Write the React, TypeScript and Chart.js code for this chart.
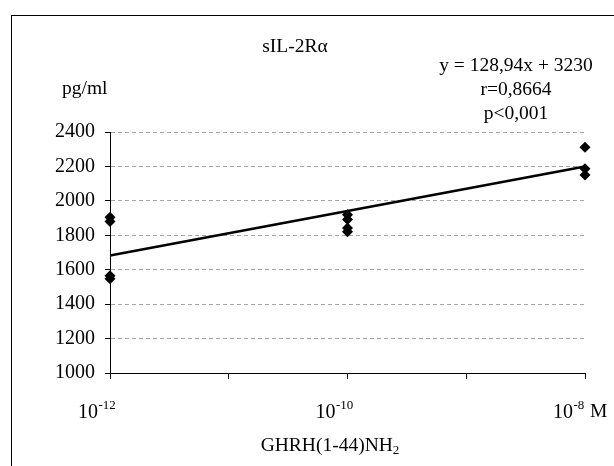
import React, { useEffect, useRef } from "react";
import { Chart, registerables } from "chart.js";

Chart.register(...registerables);

// ---- data ----
const doses = [1e-12, 1e-10, 1e-8];
const valuesLow = [1905, 1880, 1565, 1548];
const valuesMid = [1920, 1892, 1843, 1820];
const valuesHigh = [2312, 2186, 2150];
const trendX = [1e-12, 1e-8];
const trendY = [1683, 2199];
const yMin = 1000;
const yMax = 2400;
const yStep = 200;
const xTickValues = [1e-12, 1e-11, 1e-10, 1e-9, 1e-8];
const xLabelValues = [1e-12, 1e-10, 1e-8];
const xLabelBase = "10";
const xLabelExponents = ["-12", "-10", "-8"];
const chartTitle = "sIL-2Rα";
const yUnit = "pg/ml";
const xUnit = "M";
const equationLines = ["y = 128,94x + 3230", "r=0,8664", "p<0,001"];

const FONT = "'Liberation Serif', 'Times New Roman', serif";

const xLabelPlugin = {
  id: "xLabelPlugin",
  afterDraw(chart: any) {
    const ctx = chart.ctx;
    const xs = chart.scales.x;
    ctx.save();
    ctx.fillStyle = "#000";
    ctx.textBaseline = "alphabetic";
    ctx.textAlign = "left";
    xLabelValues.forEach((v, i) => {
      const px = xs.getPixelForValue(v);
      ctx.font = `20px ${FONT}`;
      const w1 = ctx.measureText(xLabelBase).width;
      const start = px - 32;
      ctx.fillText(xLabelBase, start, 418);
      ctx.font = `13px ${FONT}`;
      ctx.fillText(xLabelExponents[i], start + w1 + 0.5, 409);
    });
    ctx.restore();
  },
};

export default function App() {
  const ref = useRef<HTMLCanvasElement>(null);

  useEffect(() => {
    if (!ref.current) return;
    const pts = [
      ...valuesLow.map((y) => ({ x: doses[0], y })),
      ...valuesMid.map((y) => ({ x: doses[1], y })),
      ...valuesHigh.map((y) => ({ x: doses[2], y })),
    ];
    const chart = new Chart(ref.current, {
      type: "scatter",
      data: {
        datasets: [
          {
            type: "line",
            data: trendX.map((x, i) => ({ x, y: trendY[i] })),
            borderColor: "#000",
            borderWidth: 2.5,
            pointRadius: 0,
            fill: false,
            clip: false,
          } as any,
          {
            type: "scatter",
            data: pts,
            pointStyle: "rectRot",
            pointRadius: 5.5,
            backgroundColor: "#000",
            borderColor: "#000",
            borderWidth: 0,
            clip: false,
          } as any,
        ],
      },
      options: {
        animation: false,
        responsive: false,
        maintainAspectRatio: false,
        events: [],
        layout: { padding: { top: 132, right: 29, bottom: 83, left: 0 } },
        plugins: {
          legend: { display: false },
          tooltip: { enabled: false },
          title: { display: false },
        },
        scales: {
          x: {
            type: "logarithmic",
            min: xTickValues[0],
            max: xTickValues[xTickValues.length - 1],
            afterBuildTicks: (s: any) => {
              s.ticks = xTickValues.map((v) => ({ value: v }));
            },
            afterFit: (s: any) => {
              s.height = 10;
            },
            ticks: { display: false, autoSkip: false },
            grid: {
              display: true,
              drawOnChartArea: false,
              drawTicks: true,
              tickLength: 6,
              tickColor: "#000",
              color: "#000",
            },
            border: { display: true, color: "#000", width: 1 },
          },
          y: {
            min: yMin,
            max: yMax,
            afterFit: (s: any) => {
              s.width = 110;
            },
            ticks: {
              stepSize: yStep,
              color: "#000",
              padding: 10,
              font: { family: FONT, size: 20 },
              callback: (v: any) => String(v),
            },
            grid: {
              color: (c: any) => (c.index === 0 ? "rgba(0,0,0,0)" : "#a6a6a6"),
              tickColor: "#000",
              tickLength: 5,
              lineWidth: 1,
            },
            border: { display: true, color: "#000", width: 1, dash: [4, 3] },
          },
        },
      },
      plugins: [xLabelPlugin],
    } as any);
    return () => chart.destroy();
  }, []);

  const text: React.CSSProperties = {
    position: "absolute",
    fontFamily: FONT,
    fontSize: "19.5px",
    lineHeight: "20px",
    color: "#000",
    whiteSpace: "nowrap",
  };

  return (
    <div
      style={{
        position: "absolute",
        left: 0,
        top: 0,
        width: 614,
        height: 466,
        overflow: "hidden",
        background: "#fff",
      }}
    >
      <div
        style={{
          position: "absolute",
          left: 11,
          top: 15,
          width: 1000,
          height: 1000,
          border: "1px solid #000",
        }}
      />
      <canvas
        ref={ref}
        width={614}
        height={466}
        style={{ position: "absolute", left: 0, top: 0, width: 614, height: 466 }}
      />
      <div style={{ ...text, left: 295, top: 36, transform: "translateX(-50%)" }}>{chartTitle}</div>
      <div style={{ ...text, left: 62, top: 78 }}>{yUnit}</div>
      {equationLines.map((l, i) => (
        <div key={i} style={{ ...text, left: 516, top: 55 + i * 24, transform: "translateX(-50%)" }}>
          {l}
        </div>
      ))}
      <div style={{ ...text, left: 590, top: 401 }}>{xUnit}</div>
      <div style={{ ...text, left: 330, top: 435, transform: "translateX(-50%)" }}>
        GHRH(1-44)NH
        <sub style={{ fontSize: "13px", verticalAlign: "baseline", position: "relative", top: "3px" }}>2</sub>
      </div>
    </div>
  );
}
